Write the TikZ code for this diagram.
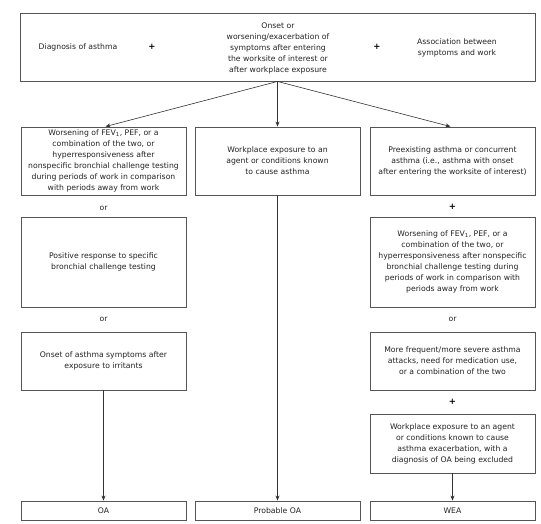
\documentclass[tikz,border=0pt]{standalone}
\usepackage{fontspec}
\setmainfont{DejaVu Sans}
\usetikzlibrary{arrows.meta}
\definecolor{boxline}{HTML}{555555}
\definecolor{txt}{HTML}{222222}
\begin{document}
\begin{tikzpicture}[x=1pt,y=-1pt,
  box/.style={draw=boxline,line width=0.9pt,inner sep=0pt,text=txt,
    minimum width=165pt,align=center,font=\fontsize{7.7}{11}\selectfont},
  lbl/.style={inner sep=0pt,text=txt,align=center,font=\fontsize{7.7}{11}\selectfont},
  plus/.style={inner sep=0pt,text=black,font=\fontsize{8.5}{10}\selectfont\bfseries},
  conn/.style={draw=black!80,line width=0.6pt,-{Stealth[length=5pt,width=4pt]}}]
\useasboundingbox (0,0) rectangle (541,524);
% top box
\node[box,minimum width=515pt,minimum height=68pt] (top) at (277.5,47) {};
\node[lbl] (diag) at (78,47) {Diagnosis of asthma};
\node[plus] (p1) at (152,47) {+};
\node[lbl] (onset) at (278,48) {Onset or\\worsening/exacerbation of\\symptoms after entering\\the worksite of interest or\\after workplace exposure};
\node[plus] (p2) at (377,47) {+};
\node[lbl] (assoc) at (457,48) {Association between\\symptoms and work};
% row 1
\node[box,minimum height=68pt] (L1) at (103.5,161) {Worsening of FEV\textsubscript{1}, PEF, or a\\combination of the two, or\\hyperresponsiveness after\\nonspecific bronchial challenge testing\\during periods of work in comparison\\with periods away from work};
\node[box,minimum height=68pt] (M1) at (277.5,161) {Workplace exposure to an\\agent or conditions known\\to cause asthma};
\node[box,minimum height=68pt] (R1) at (452.5,161) {Preexisting asthma or concurrent\\asthma (i.e., asthma with onset\\after entering the worksite of interest)};
% row 2
\node[box,minimum height=90pt] (L2) at (103.5,262) {Positive response to specific\\bronchial challenge testing};
\node[box,minimum height=90pt] (R2) at (452.5,262) {Worsening of FEV\textsubscript{1}, PEF, or a\\combination of the two, or\\hyperresponsiveness after nonspecific\\bronchial challenge testing during\\periods of work in comparison with\\periods away from work};
% row 3
\node[box,minimum height=58pt] (L3) at (103.5,361) {Onset of asthma symptoms after\\exposure to irritants};
\node[box,minimum height=58pt] (R3) at (452.5,361) {More frequent/more severe asthma\\attacks, need for medication use,\\or a combination of the two};
% row 4
\node[box,minimum height=59pt] (R4) at (452.5,443.5) {Workplace exposure to an agent\\or conditions known to cause\\asthma exacerbation, with a\\diagnosis of OA being excluded};
% outcomes
\node[box,minimum height=19pt] (OA) at (103.5,510.5) {OA};
\node[box,minimum height=19pt] (POA) at (277.5,510.5) {Probable OA};
\node[box,minimum height=19pt] (WEA) at (452.5,510.5) {WEA};
% in-between labels
\node[lbl] (or1) at (103.5,208) {or};
\node[lbl] (or2) at (103.5,319) {or};
\node[plus] (p3) at (452.5,207) {+};
\node[lbl] (or3) at (452.5,319) {or};
\node[plus] (p4) at (452.5,402) {+};
% connectors
\draw[conn] (top.south) -- ([xshift=2pt]L1.north);
\draw[conn] (top.south) -- (M1.north);
\draw[conn] (top.south) -- ([xshift=-2pt]R1.north);
\draw[conn] (L3.south) -- (OA.north);
\draw[conn] (M1.south) -- (POA.north);
\draw[conn] (R4.south) -- (WEA.north);
\end{tikzpicture}
\end{document}
